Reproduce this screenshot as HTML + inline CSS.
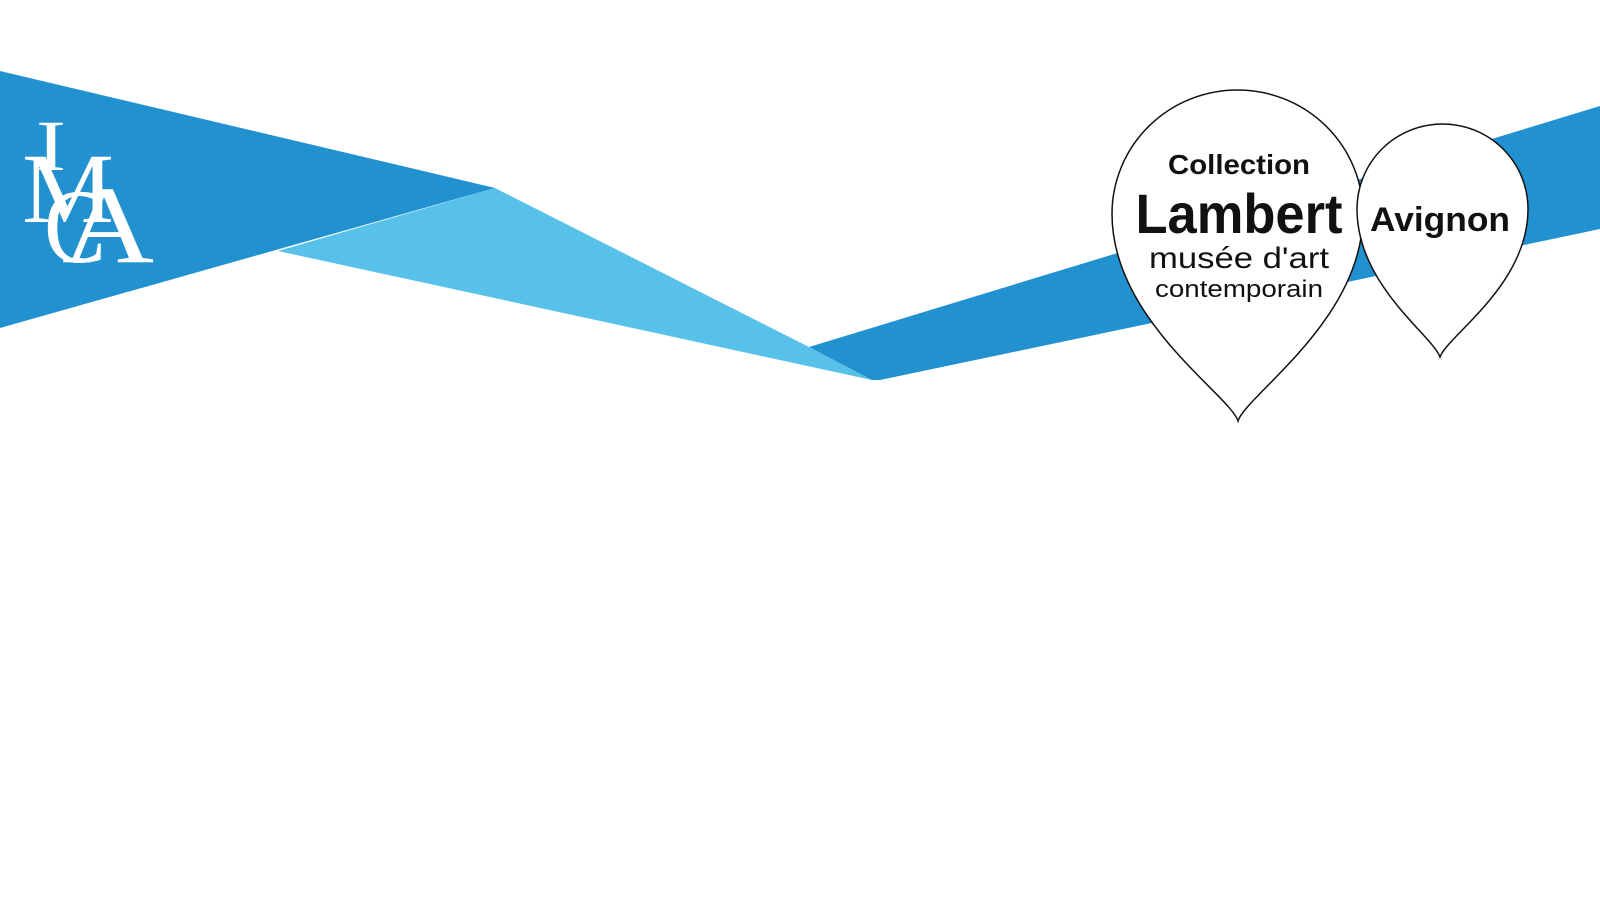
<!DOCTYPE html>
<html><head><meta charset="utf-8"><style>
html,body{margin:0;padding:0;background:#fff;width:1600px;height:899px;overflow:hidden}
</style></head><body>
<svg width="1600" height="899" viewBox="0 0 1600 899" xmlns="http://www.w3.org/2000/svg">
<polygon points="278,251 495,188 809,347 872,380" fill="#57c1ea"/>
<polygon points="0,71 495,188 0,328" fill="#2291cf"/>
<polygon points="809,347 1600,106 1600,229 880,380 872,380" fill="#2291cf"/>
<g fill="#fff" font-family="Liberation Serif, serif">
<text x="36" y="170" font-size="72" textLength="30" lengthAdjust="spacingAndGlyphs">I</text>
<text x="22" y="222" font-size="100" textLength="92" lengthAdjust="spacingAndGlyphs">M</text>
<text x="44" y="262" font-size="106" textLength="62" lengthAdjust="spacingAndGlyphs">C</text>
<text x="62" y="262" font-size="110" textLength="92" lengthAdjust="spacingAndGlyphs">A</text>
</g>
<path d="M1238,421 C1230,395 1112,320 1112,214 A125.5,124 0 0 1 1363,214 C1363,320 1246,395 1238,421 Z" fill="#fff" stroke="#111" stroke-width="1.5"/>
<path d="M1440,357 C1432,335 1357,285 1357,209 A85.5,85 0 0 1 1528,209 C1528,285 1448,335 1440,357 Z" fill="#fff" stroke="#111" stroke-width="1.5"/>
<g font-family="Liberation Sans, sans-serif" fill="#111" text-anchor="middle">
<text x="1239" y="174" font-size="28" font-weight="bold" textLength="142" lengthAdjust="spacingAndGlyphs">Collection</text>
<text x="1239" y="233" font-size="56" font-weight="bold" textLength="207" lengthAdjust="spacingAndGlyphs">Lambert</text>
<text x="1239" y="268" font-size="30" textLength="180" lengthAdjust="spacingAndGlyphs">musée d'art</text>
<text x="1239" y="297" font-size="24" textLength="168" lengthAdjust="spacingAndGlyphs">contemporain</text>
<text x="1440" y="231" font-size="34" font-weight="bold" textLength="140" lengthAdjust="spacingAndGlyphs">Avignon</text>
</g>
</svg>
</body></html>
